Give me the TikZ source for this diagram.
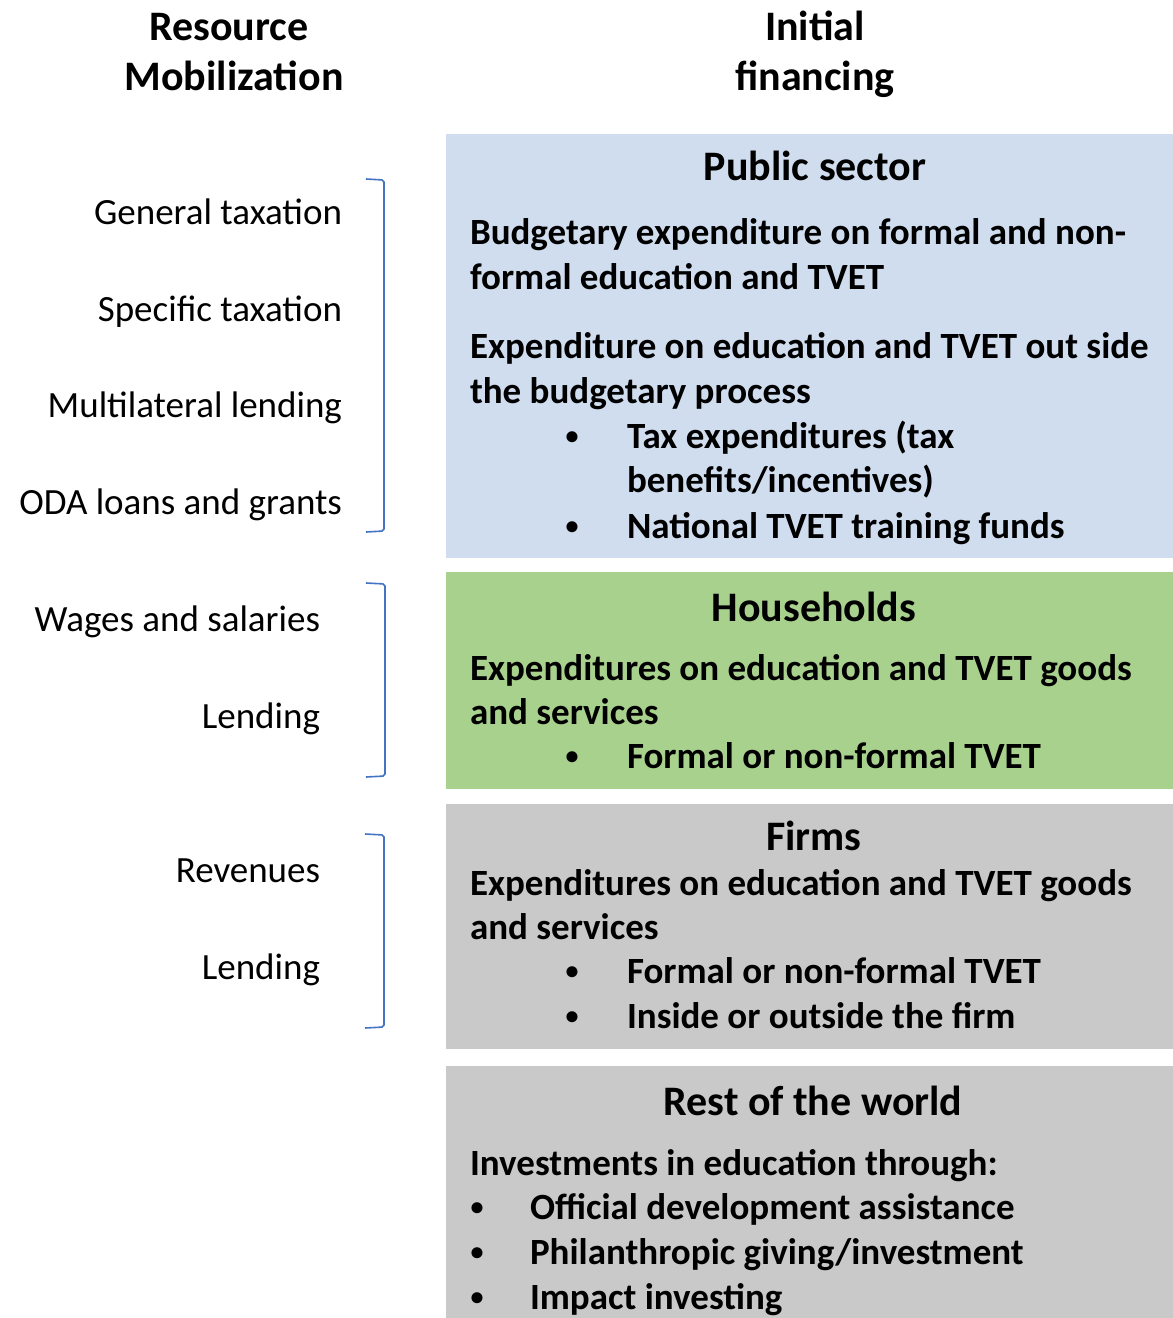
\documentclass[tikz,border=0pt]{standalone}
\usepackage{fontspec}
\setmainfont{Carlito}
\definecolor{pubblue}{HTML}{D0DDEF}
\definecolor{hhgreen}{HTML}{A9D18E}
\definecolor{secgray}{HTML}{C9C9C9}
\definecolor{brblue}{HTML}{4472C4}

\begin{document}
\begin{tikzpicture}[x=1pt, y=-1pt,
  every node/.style={inner sep=0pt, outer sep=0pt},
  colhead/.style={font=\fontsize{42}{50}\selectfont\bfseries, anchor=mid},
  sectitle/.style={font=\fontsize{42}{50}\selectfont\bfseries, anchor=mid},
  body/.style={font=\fontsize{37}{45}\selectfont\bfseries, anchor=mid west},
  dot/.style={font=\fontsize{26}{30}\selectfont\bfseries, anchor=center, yshift=8pt},
  src/.style={font=\fontsize{37}{45}\selectfont, anchor=mid east},
  sector/.style={anchor=north west, minimum width=727pt},
  bracket/.style={draw=brblue, line width=1.6pt, rounded corners=2pt}]
  \useasboundingbox (0,0) rectangle (1173,1318);

  % column headings
  \node[colhead] (res1) at (229,38) {Resource};
  \node[colhead] (res2) at (234,88) {Mobilization};
  \node[colhead] (fin1) at (815,38) {Initial};
  \node[colhead] (fin2) at (815,88) {financing};

  % sector panels
  \node[sector, fill=pubblue, minimum height=424pt] (pub) at (446,134) {};
  \node[sector, fill=hhgreen, minimum height=217pt] (hh) at (446,572) {};
  \node[sector, fill=secgray, minimum height=245pt] (firm) at (446,804) {};
  \node[sector, fill=secgray, minimum height=252pt] (row) at (446,1066) {};

  % sources of funds
  \foreach \y/\t [count=\i] in {222/General taxation, 319/Specific taxation,
      415/Multilateral lending, 512/ODA loans and grants}
    \node[src] (tax\i) at (342,\y) {\t};
  \foreach \y/\t [count=\i] in {629/Wages and salaries, 726/Lending}
    \node[src] (hsrc\i) at (320,\y) {\t};
  \foreach \y/\t [count=\i] in {880/Revenues, 977/Lending}
    \node[src] (fsrc\i) at (320,\y) {\t};

  % brackets
  \draw[bracket] (366,179) -- (384,180) -- (384,531) -- (366,532);
  \draw[bracket] (366,583) -- (385,584) -- (385,776) -- (366,777);
  \draw[bracket] (365,834) -- (384,835) -- (384,1027) -- (365,1028);

  % public sector
  \node[sectitle] (pub-title) at (815,178) {Public sector};
  \foreach \y/\t [count=\i] in {242/Budgetary expenditure on formal and non-,
      287/formal education and TVET, 356/Expenditure on education and TVET out side,
      401/the budgetary process}
    \node[body] (pub-l\i) at (470,\y) {\t};
  \foreach \y/\t [count=\i] in {446/Tax expenditures (tax, 536/National TVET training funds}{
    \node[dot] (pub-d\i) at (572,\y) {•};
    \node[body] (pub-b\i) at (627,\y) {\t};
  }
  \node[body] (pub-b1x) at (627,490) {benefits/incentives)};

  % households
  \node[sectitle] (hh-title) at (814,619) {Households};
  \node[body] (hh-l1) at (470,678) {Expenditures on education and TVET goods};
  \node[body] (hh-l2) at (470,722) {and services};
  \node[dot] (hh-d1) at (572,766) {•};
  \node[body] (hh-b1) at (627,766) {Formal or non-formal TVET};

  % firms
  \node[sectitle] (firm-title) at (814,848) {Firms};
  \node[body] (firm-l1) at (470,893) {Expenditures on education and TVET goods};
  \node[body] (firm-l2) at (470,937) {and services};
  \foreach \y/\t [count=\i] in {981/Formal or non-formal TVET, 1026/Inside or outside the firm}{
    \node[dot] (firm-d\i) at (572,\y) {•};
    \node[body] (firm-b\i) at (627,\y) {\t};
  }

  % rest of the world
  \node[sectitle] (row-title) at (813,1113) {Rest of the world};
  \node[body] (row-l1) at (470,1173) {Investments in education through:};
  \node[dot] (row-d1) at (477,1217) {•};
  \node[body] (row-b1) at (530,1217) {Official development assistance};
  \node[dot] (row-d2) at (477,1262) {•};
  \node[body] (row-b2) at (530,1262) {Philanthropic giving/investment};
  \node[dot] (row-d3) at (477,1307) {•};
  \node[body] (row-b3) at (530,1307) {Impact investing};
\end{tikzpicture}
\end{document}
